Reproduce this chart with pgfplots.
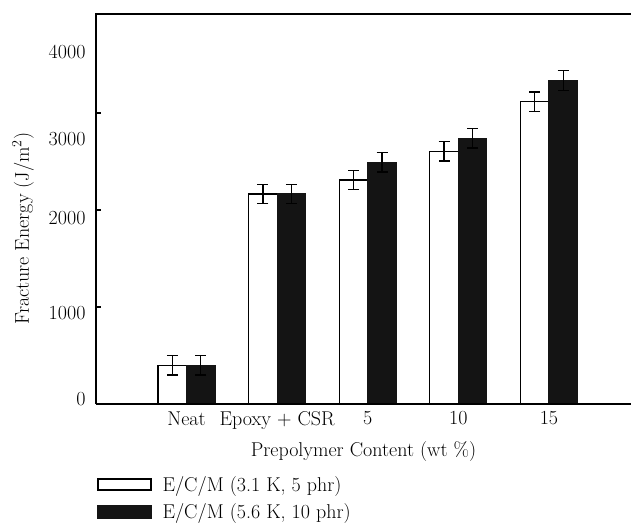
\documentclass[border=0pt]{standalone}
\usepackage{pgfplots}
\pgfplotsset{compat=1.18}
\definecolor{barblack}{HTML}{141414}
\newcommand{\fs}{\fontsize{20}{23}\selectfont}
\begin{document}
\begin{tikzpicture}
\begin{axis}[
  at={(96pt,119pt)}, anchor=south west,
  scale only axis, width=535pt, height=390pt,
  xmin=-1.0, xmax=4.906, ymin=0, ymax=4020,
  ybar=0pt, bar width=28.5pt,
  axis line style={draw=none},
  xtick={0,1,2,3,4},
  xticklabels={Neat, Epoxy + CSR, 5, 10, 15},
  x tick label style={font=\fs, yshift=-4pt},
  xtick style={draw=none},
  ytick={1000,2000,3000},
  yticklabels={},
  ytick style={line width=1.3pt, black},
  major tick length=5pt,
  tick align=inside,
  ytick pos=left,
  extra y ticks={50,938,1918,2732,3629},
  extra y tick labels={0,1000,2000,3000,4000},
  extra y tick style={major tick length=0pt, yticklabel style={font=\fs, xshift=-7pt}},
  xlabel={Prepolymer Content (wt \%)},
  xlabel style={font=\fs, yshift=-5pt},
  every axis y label/.style={at={(axis description cs:0,0.45)}, xshift=-73pt, rotate=90, anchor=center, font=\fs},
  ylabel={Fracture Energy (J/m\textsuperscript{2})},
  legend style={at={(axis description cs:0,0)}, anchor=north west, xshift=1pt, yshift=-70pt,
    draw=none, fill=none, inner sep=0pt, row sep=7pt, font=\fs,
    /tikz/every odd column/.append style={column sep=9pt}},
  legend cell align=left,
  error bars/y dir=both, error bars/y explicit,
  error bars/error bar style={line width=1.3pt, black},
  error bars/error mark options={rotate=90, mark size=5.5pt, line width=1.3pt, black},
  clip=false,
]
\addplot[draw=black, fill=white, line width=1.3pt,
  legend image code/.code={\draw[draw=black, fill=white, line width=1.3pt] (0pt,-5.5pt) rectangle (53pt,5.5pt);}]
  coordinates {(0,400) +- (0,100) (1,2165) +- (0,100) (2,2310) +- (0,100) (3,2605) +- (0,100) (4,3115) +- (0,100)};
\addplot[draw=barblack, fill=barblack, line width=1.3pt,
  legend image code/.code={\draw[draw=barblack, fill=barblack, line width=1.3pt] (0pt,-6pt) rectangle (53pt,6pt);}]
  coordinates {(0,400) +- (0,100) (1,2165) +- (0,100) (2,2490) +- (0,100) (3,2740) +- (0,100) (4,3335) +- (0,100)};
\legend{E/C/M (3.1 K{,} 5 phr), E/C/M (5.6 K{,} 10 phr)}
\draw[line width=1.5pt, black] (rel axis cs:0,0) -- (rel axis cs:0,1) -- (rel axis cs:1,1);
\draw[line width=1.5pt, black] (rel axis cs:0,0) -- (rel axis cs:1,0);
\end{axis}
\pgfresetboundingbox
\path[use as bounding box] (0,0) rectangle (631pt,523pt);
\end{tikzpicture}
\end{document}
